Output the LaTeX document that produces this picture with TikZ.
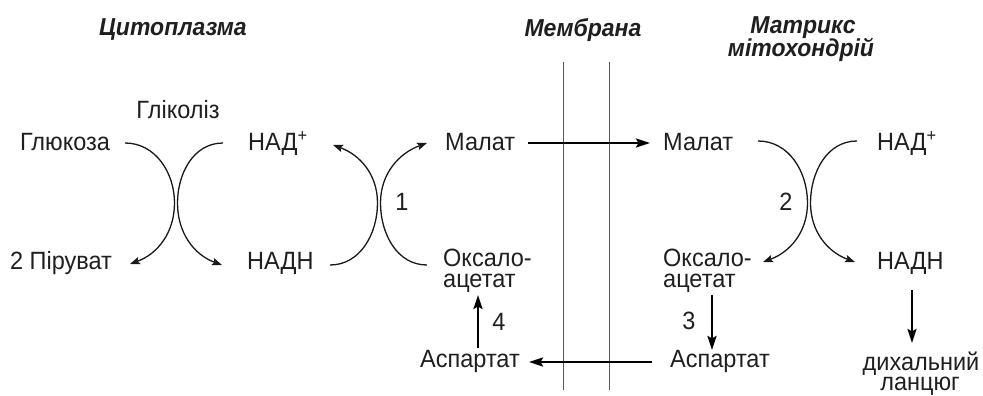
\documentclass[tikz,border=0pt]{standalone}
\usepackage{fontspec}
\setmainfont{Liberation Sans}[FakeStretch=0.94]
\usetikzlibrary{arrows.meta}
\begin{document}
\begin{tikzpicture}[x=1pt,y=1pt,
  txt/.style={inner sep=0pt,anchor=base,font=\fontsize{25}{29}\selectfont,text=black!88},
  ltxt/.style={txt,anchor=base west},
  head/.style={inner sep=0pt,anchor=base,font=\fontsize{24.5}{28}\selectfont\bfseries\itshape,text=black!88},
  curv/.style={line width=1.3pt,-{Stealth[length=10pt,width=7.5pt,inset=2pt]},black!90},
  thick arrow/.style={line width=2.5pt,-{Stealth[length=14pt,width=9pt,inset=2.5pt]},black},
  membrane/.style={line width=1pt,black!65}]
\useasboundingbox (0,0) rectangle (983,396);
% headings
\node[head] (hcyt) at (173,360) {Цитоплазма};
\node[head] (hmem) at (583,359) {Мембрана};
\node[head] (hmat1) at (803,362) {Матрикс};
\node[head] (hmat2) at (801,339) {мітохондрій};
% membrane
\coordinate (m1t) at (563,334); \coordinate (m1b) at (563,6);
\coordinate (m2t) at (609,334); \coordinate (m2b) at (609,6);
\draw[membrane] (m1t) -- (m1b);
\draw[membrane] (m2t) -- (m2b);
% texts
\node[txt] (glyc) at (178,277) {Гліколіз};
\node[txt] (gluc) at (65,245) {Глюкоза};
\node[txt] (pyr) at (61,126) {2 Піруват};
\node[ltxt] (nadL) at (248,245) {НАД\textsuperscript{+}};
\node[ltxt] (nadhL) at (247,126) {НАДН};
\node[ltxt] (malL) at (445,245) {Малат};
\node[ltxt] (oxL1) at (443,129) {Оксало-};
\node[ltxt] (oxL2) at (443,108) {ацетат};
\node[txt,anchor=center] (n1) at (402,194) {1};
\node[ltxt] (malR) at (663,245) {Малат};
\node[ltxt] (nadR) at (877,245) {НАД\textsuperscript{+}};
\node[ltxt] (oxR1) at (663,129) {Оксало-};
\node[ltxt] (oxR2) at (663,108) {ацетат};
\node[ltxt] (nadhR) at (877,126) {НАДН};
\node[txt,anchor=center] (n2) at (786,194) {2};
\node[txt,anchor=center] (n3) at (689,75) {3};
\node[txt,anchor=center] (n4) at (499,74) {4};
\node[ltxt] (aspL) at (420,28) {Аспартат};
\node[ltxt] (aspR) at (670,28) {Аспартат};
\node[txt] (resp1) at (921,25) {дихальний};
\node[txt] (resp2) at (920,5) {ланцюг};
% curve anchor points
\coordinate (g1) at (125,253); \coordinate (g1m) at (174.5,193); \coordinate (g1e) at (130,132);
\coordinate (g2) at (223,253); \coordinate (g2m) at (177.5,193); \coordinate (g2e) at (222,131);
\coordinate (a1) at (330,131); \coordinate (a1m) at (377.5,193); \coordinate (a1e) at (333,251);
\coordinate (a2) at (427,131); \coordinate (a2m) at (380.5,193); \coordinate (a2e) at (427,253);
\coordinate (b1) at (758,255); \coordinate (b1m) at (807.5,193); \coordinate (b1e) at (763,134);
\coordinate (b2) at (857,255); \coordinate (b2m) at (810.5,193); \coordinate (b2e) at (855,134);
% curves
\draw[curv] (g1) to[out=0,in=90] (g1m) to[out=-90,in=20] (g1e);
\draw[curv] (g2) to[out=180,in=90] (g2m) to[out=-90,in=160] (g2e);
\draw[curv] (a1) to[out=0,in=-90] (a1m) to[out=90,in=-20] (a1e);
\draw[curv] (a2) to[out=180,in=-90] (a2m) to[out=90,in=200] (a2e);
\draw[curv] (b1) to[out=0,in=90] (b1m) to[out=-90,in=20] (b1e);
\draw[curv] (b2) to[out=180,in=90] (b2m) to[out=-90,in=160] (b2e);
% straight arrows
\coordinate (t1) at (528,253); \coordinate (t2) at (650,253);
\coordinate (s1) at (652,34); \coordinate (s2) at (529,34);
\coordinate (u1) at (478,48); \coordinate (u2) at (478,101);
\coordinate (d1) at (712,101); \coordinate (d2) at (712,46);
\coordinate (r1) at (912,106); \coordinate (r2) at (912,53);
\draw[thick arrow] (t1) -- (t2);
\draw[thick arrow] (s1) -- (s2);
\draw[thick arrow] (u1) -- (u2);
\draw[thick arrow] (d1) -- (d2);
\draw[thick arrow] (r1) -- (r2);
\end{tikzpicture}
\end{document}
